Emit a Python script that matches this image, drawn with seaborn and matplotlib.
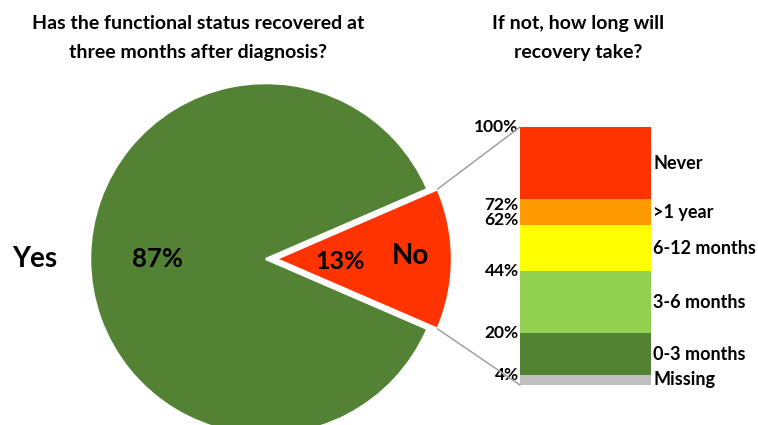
import matplotlib
matplotlib.use("Agg")
import matplotlib.pyplot as plt
from matplotlib.patches import ConnectionPatch
import numpy as np
import pandas as pd
import seaborn as sns

# Recovery at three months
pie_labels = ["No", "Yes"]
pie_values = [13, 87]
pie_colors = ["#FF3300", "#548235"]

# Expected time to recovery among those not recovered (cumulative %)
categories = ["Missing", "0-3 months", "3-6 months", "6-12 months", ">1 year", "Never"]
cumulative_top = [4, 20, 44, 62, 72, 100]
bar_colors = ["#BFBFBF", "#548235", "#92D050", "#FFFF00", "#FF9900", "#FF3300"]

title_left = "Has the functional status recovered at\nthree months after diagnosis?"
title_right = "If not, how long will\nrecovery take?"

sns.set_theme(style="white")
plt.rcParams["font.family"] = ["Lato", "DejaVu Sans"]
plt.rcParams["font.weight"] = "bold"

W, H = 758, 425
fig = plt.figure(figsize=(W / 100, H / 100), dpi=100)

# ---- pie ----
cx, cy, r = 266, 166, 176          # pixel centre (from bottom) and radius
pie_w = 480
ax_pie = fig.add_axes([0, 0, pie_w / W, 1])
explode_d = 0.057
start = -pie_values[0] / 100 * 180
wedges, _ = ax_pie.pie(
    pie_values, colors=pie_colors, startangle=start, counterclock=True,
    explode=[explode_d, 0], radius=1,
    wedgeprops=dict(edgecolor="white", linewidth=1.8),
)
ax_pie.set_xlim(-cx / r, (pie_w - cx) / r)
ax_pie.set_ylim(-cy / r, (H - cy) / r)
ax_pie.set_aspect("auto")
ax_pie.axis("off")

ax_pie.text(-1.312, 0.0, pie_labels[1], ha="center", va="center",
            fontsize=20, fontweight="bold", color="black")
ax_pie.text(-0.614, 0.0, f"{pie_values[1]}%", ha="center", va="center",
            fontsize=18.5, fontweight="bold", color="black")
ax_pie.text(0.42, -0.015, f"{pie_values[0]}%", ha="center", va="center",
            fontsize=18, fontweight="bold", color="black")
ax_pie.text(0.82, 0.017, pie_labels[0], ha="center", va="center",
            fontsize=20, fontweight="bold", color="black")

# ---- stacked bar ----
bx0, bx1, by_top, by_bot = 520, 651, 127, 385
ax_bar = fig.add_axes([bx0 / W, (H - by_bot) / H, (bx1 - bx0) / W, (by_bot - by_top) / H])
df = pd.DataFrame({"category": categories, "top": cumulative_top, "color": bar_colors})
for _, row in df.iloc[::-1].iterrows():
    sns.barplot(x=["No"], y=[row["top"]], color=row["color"], width=1.0,
                linewidth=0, saturation=1, ax=ax_bar)
ax_bar.set_xlim(-0.5, 0.5)
ax_bar.set_ylim(0, 100)
ax_bar.axis("off")

bottoms = [0] + cumulative_top[:-1]
for cat, lo, hi in zip(categories, bottoms, cumulative_top):
    ax_bar.annotate(cat, xy=(0.5, (lo + hi) / 2), xytext=(1.5, 0),
                    textcoords="offset points", ha="left", va="center",
                    fontsize=13, fontweight="bold", color="black")

nudge = {72: -3.8, 62: 3.8}
for v in cumulative_top:
    ax_bar.annotate(f"{v}%", xy=(-0.5, v), xytext=(-1.0, nudge.get(v, 0)),
                    textcoords="offset points", ha="right", va="center",
                    fontsize=12.5, fontweight="bold", color="black")

# ---- connector lines from the "No" wedge to the bar ----
theta = np.deg2rad(pie_values[0] / 100 * 180)
for sign, ytarget in [(1, 100), (-1, 0)]:
    corner = (explode_d + np.cos(theta), sign * np.sin(theta))
    con = ConnectionPatch(xyA=corner, coordsA=ax_pie.transData,
                          xyB=(-0.5, ytarget), coordsB=ax_bar.transData,
                          color="#A0A0A0", linewidth=1.1)
    fig.add_artist(con)

# ---- titles ----
fig.text(198 / W, 1 - 38 / H, title_left, ha="center", va="center",
         fontsize=14, fontweight="bold", linespacing=1.8, color="black")
fig.text(578 / W, 1 - 38 / H, title_right, ha="center", va="center",
         fontsize=14, fontweight="bold", linespacing=1.8, color="black")

fig.savefig("out.png", dpi=100)
